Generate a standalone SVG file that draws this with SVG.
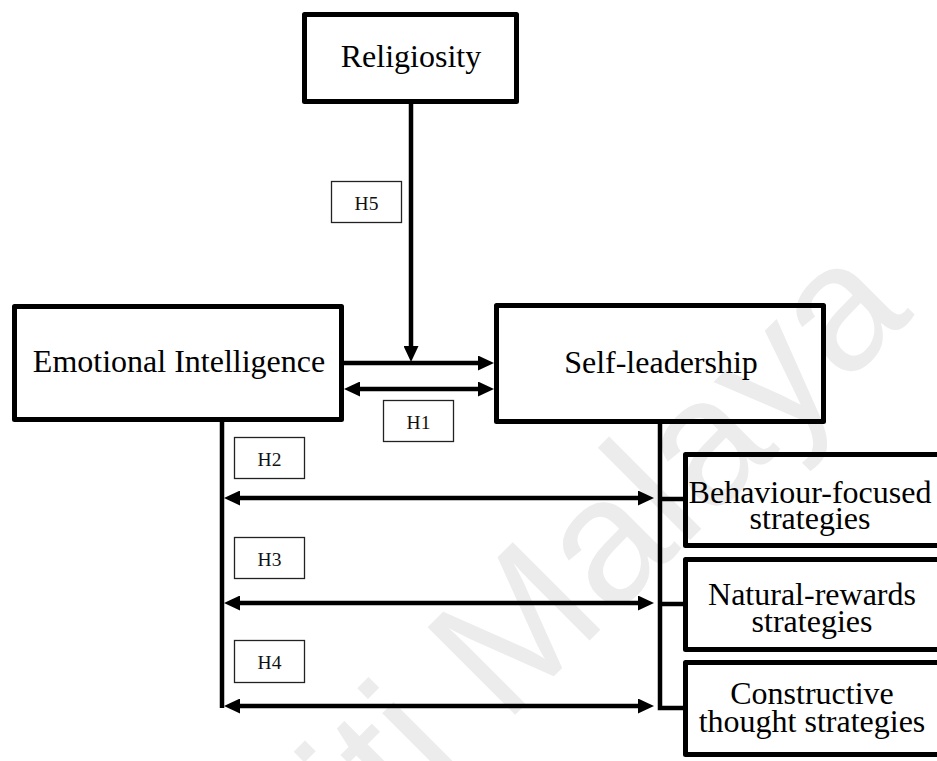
<svg xmlns="http://www.w3.org/2000/svg" width="937" height="761" viewBox="0 0 937 761">
  <style>
    .box { fill: none; stroke: #000; stroke-width: 5; stroke-linejoin: round; }
    .hbox { fill: #fff; stroke: #222; stroke-width: 1.3; }
    .conn { fill: none; stroke: #000; stroke-width: 4.5; stroke-linejoin: miter; }
    .lbl { font-family: "Liberation Serif", "Times New Roman", serif; font-size: 32px; fill: #000; text-anchor: middle; }
    .hlbl { font-family: "Liberation Serif", "Times New Roman", serif; font-size: 19.5px; fill: #111; text-anchor: middle; }
    .wm { font-family: "Liberation Sans", Arial, sans-serif; font-size: 180px; fill: #ececec; text-anchor: end; }
  </style>
  <defs>
    <marker id="ah" viewBox="0 0 16 15" refX="8" refY="7.5" markerWidth="16" markerHeight="15" markerUnits="userSpaceOnUse" orient="auto-start-reverse">
      <path d="M0,0 L16,7.5 L0,15 z" fill="#000"/>
    </marker>
  </defs>

  <rect width="937" height="761" fill="#fff"/>

  <!-- background watermark -->
  <text class="wm" transform="translate(915 315) rotate(-45)">Universiti Malaya</text>

  <!-- connectors -->
  <g id="connectors">
    <path class="conn" d="M411,104 V354" marker-end="url(#ah)"/>
    <path class="conn" d="M344,363 H486" marker-end="url(#ah)"/>
    <path class="conn" d="M352,389 H486" marker-start="url(#ah)" marker-end="url(#ah)"/>
    <path class="conn" d="M222,422 V708"/>
    <path class="conn" d="M232,498 H646" marker-start="url(#ah)" marker-end="url(#ah)"/>
    <path class="conn" d="M232,603 H646" marker-start="url(#ah)" marker-end="url(#ah)"/>
    <path class="conn" d="M232,706 H646" marker-start="url(#ah)" marker-end="url(#ah)"/>
    <path class="conn" d="M660,424 V708 H686"/>
    <path class="conn" d="M660,499 H686"/>
    <path class="conn" d="M660,604 H686"/>
  </g>

  <!-- nodes -->
  <g id="religiosity">
    <rect class="box" x="304.5" y="14.5" width="212" height="87"/>
    <text class="lbl" x="411" y="67">Religiosity</text>
  </g>
  <g id="emotional-intelligence">
    <rect class="box" x="14.5" y="306.5" width="327" height="113"/>
    <text class="lbl" x="179" y="372">Emotional Intelligence</text>
  </g>
  <g id="self-leadership">
    <rect class="box" x="496.5" y="305.5" width="327" height="116"/>
    <text class="lbl" x="661" y="373">Self-leadership</text>
  </g>
  <g id="behaviour-focused">
    <rect class="box" x="685.5" y="454.5" width="300" height="91"/>
    <text class="lbl" x="810" y="503">Behaviour-focused</text>
    <text class="lbl" x="810" y="529">strategies</text>
  </g>
  <g id="natural-rewards">
    <rect class="box" x="685.5" y="559.5" width="300" height="90"/>
    <text class="lbl" x="812" y="605">Natural-rewards</text>
    <text class="lbl" x="812" y="632">strategies</text>
  </g>
  <g id="constructive-thought">
    <rect class="box" x="685.5" y="662.5" width="300" height="92"/>
    <text class="lbl" x="812" y="704">Constructive</text>
    <text class="lbl" x="812" y="732">thought strategies</text>
  </g>

  <!-- hypothesis labels -->
  <g id="h5">
    <rect class="hbox" x="331.5" y="181.5" width="70" height="41"/>
    <text class="hlbl" x="366.5" y="210">H5</text>
  </g>
  <g id="h1">
    <rect class="hbox" x="383.5" y="400.5" width="70" height="41"/>
    <text class="hlbl" x="418.5" y="429">H1</text>
  </g>
  <g id="h2">
    <rect class="hbox" x="234.5" y="437.5" width="70" height="41"/>
    <text class="hlbl" x="269.5" y="466">H2</text>
  </g>
  <g id="h3">
    <rect class="hbox" x="234.5" y="537.5" width="70" height="41"/>
    <text class="hlbl" x="269.5" y="566">H3</text>
  </g>
  <g id="h4">
    <rect class="hbox" x="234.5" y="640.5" width="70" height="42"/>
    <text class="hlbl" x="269.5" y="669">H4</text>
  </g>
</svg>
